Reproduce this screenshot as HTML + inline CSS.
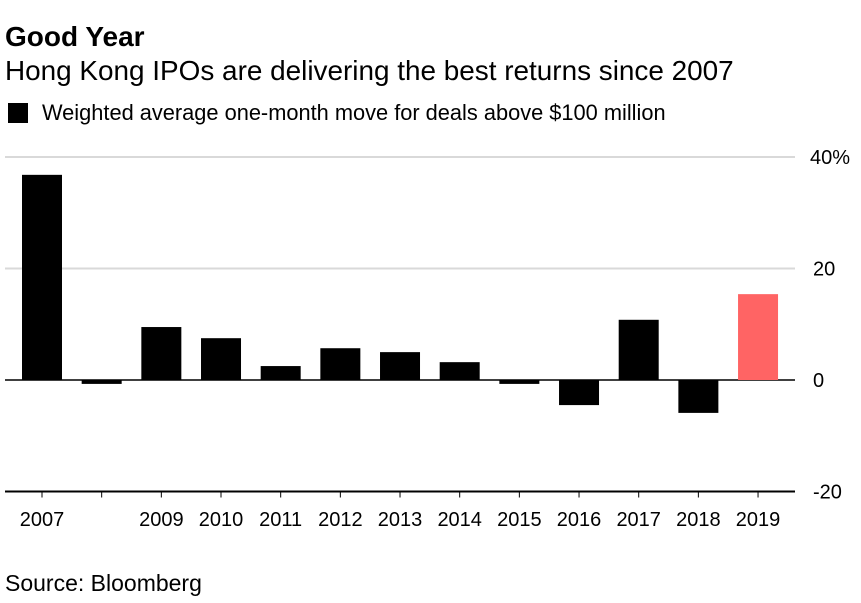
<!DOCTYPE html>
<html><head><meta charset="utf-8"><style>
body{margin:0;width:861px;height:598px;background:#fff;font-family:"Liberation Sans",sans-serif;overflow:hidden}
svg text{font-family:"Liberation Sans",sans-serif}
</style></head><body>
<svg width="861" height="598">
<text x="5" y="46" font-size="28" font-weight="bold">Good Year</text>
<text x="5" y="80" font-size="27.9">Hong Kong IPOs are delivering the best returns since 2007</text>
<rect x="8" y="103" width="20" height="20" fill="#000"/>
<text x="42" y="120" font-size="21.8">Weighted average one-month move for deals above $100 million</text>
<g id="grid"></g><g id="bars"></g><g id="xl"></g>
<text x="5" y="591" font-size="23">Source: Bloomberg</text>
</svg>
<script>
const years=["2007","2008","2009","2010","2011","2012","2013","2014","2015","2016","2017","2018","2019"];
const xLabels=["2007","","2009","2010","2011","2012","2013","2014","2015","2016","2017","2018","2019"];
const values=[36.8,-0.7,9.5,7.5,2.5,5.7,5.0,3.2,-0.7,-4.5,10.8,-5.9,15.4];
const ticks=[40,20,0,-20];
const tickLabels=["40%","20","0","-20"];
const NS="http://www.w3.org/2000/svg";
const y=v=>380-v*5.575;
const x=i=>42+i*59.67;
function mk(t,a,p){const e=document.createElementNS(NS,t);for(const k in a)e.setAttribute(k,a[k]);p.appendChild(e);return e;}
const g=document.getElementById('grid'),b=document.getElementById('bars'),xl=document.getElementById('xl');
ticks.forEach((t,i)=>{
 const l=mk('line',{x1:5,x2:795,y1:y(t),y2:y(t),stroke:t===0||t===-20?'#000':'#d9d9d9','stroke-width':t===0?1.5:2},g);
 
 
 const tx=mk('text',{x:t===40?810:813,y:y(t)+7,'font-size':20},g);tx.textContent=tickLabels[i];
 
 
});
values.forEach((v,i)=>{
 const r=mk('rect',{x:x(i)-20,width:40,y:Math.min(y(v),y(0)),height:Math.abs(y(v)-y(0)),fill:i===12?'#ff6464':'#000'},b);
 
 
 const tk=mk('line',{x1:x(i),x2:x(i),y1:y(-20),y2:y(-20)+6,stroke:'#000','stroke-width':1},xl);
 
 
 if(xLabels[i]){const t=mk('text',{x:x(i),y:526,'font-size':20,'text-anchor':'middle'},xl);t.textContent=xLabels[i];
 
 }
});
</script>
</body></html>
